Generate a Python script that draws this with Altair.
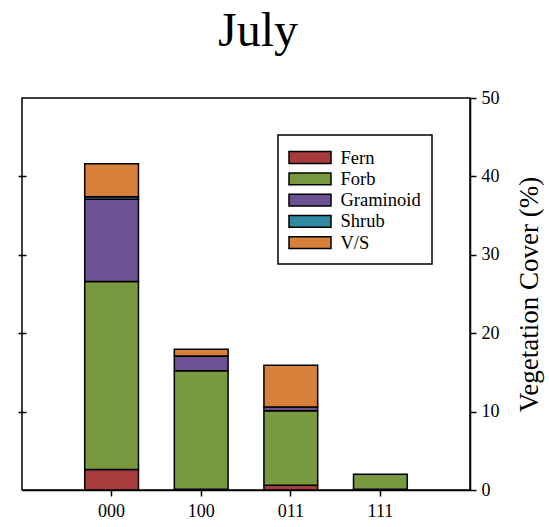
import altair as alt
import pandas as pd

# Vegetation cover (%) by treatment and growth form, July survey
treatments = ["000", "100", "011", "111"]
growth_forms = ["Fern", "Forb", "Graminoid", "Shrub", "V/S"]
fern = [2.6, 0.1, 0.6, 0.1]
forb = [24.0, 15.1, 9.5, 1.9]
graminoid = [10.5, 1.9, 0.5, 0.0]
shrub = [0.3, 0.0, 0.0, 0.0]
vs = [4.2, 0.85, 5.3, 0.0]
colors = ["#A63D3C", "#77993F", "#6A5293", "#3088A3", "#D6803A"]
y_ticks = [0, 10, 20, 30, 40, 50]

series = dict(zip(growth_forms, [fern, forb, graminoid, shrub, vs]))
rows = []
for form, vals in series.items():
    for t, v in zip(treatments, vals):
        rows.append({"treatment": t, "form": form, "cover": v})
df = pd.DataFrame(rows)

FONT = "Liberation Serif"
y_scale = alt.Scale(domain=[0, 50], nice=False, zero=True)

bars = (
    alt.Chart(df)
    .transform_filter("datum.cover > 0")
    .mark_bar(stroke="black", strokeWidth=1.5, opacity=1)
    .encode(
        x=alt.X(
            "treatment:N",
            sort=treatments,
            scale=alt.Scale(paddingInner=0.4, paddingOuter=0.7),
            axis=alt.Axis(
                title=None, labelAngle=0, labelFont=FONT, labelFontSize=18,
                labelColor="black", tickColor="black", tickWidth=1.5,
                tickSize=6, labelPadding=6, domainColor="black",
                domainWidth=1.5,
            ),
        ),
        y=alt.Y(
            "cover:Q",
            stack="zero",
            scale=y_scale,
            axis=alt.Axis(
                orient="right", values=y_ticks, title="Vegetation Cover (%)",
                titleFont=FONT, titleFontSize=27, titleFontWeight="normal",
                titleColor="black", titlePadding=44, titleAngle=270,
                labelFont=FONT, labelFontSize=18, labelColor="black",
                labelPadding=5, tickColor="black", tickWidth=1.5, tickSize=6,
                domainColor="black", domainWidth=1.5, grid=False,
            ),
        ),
        color=alt.Color(
            "form:N",
            sort=growth_forms,
            scale=alt.Scale(domain=growth_forms, range=colors),
            legend=alt.Legend(
                title=None, orient="none", legendX=256, legendY=37,
                symbolType="M-2,-0.56H2V0.56H-2Z", symbolSize=441,
                symbolOffset=9.5,
                symbolStrokeColor="black", symbolStrokeWidth=1.5,
                symbolOpacity=1, labelFont=FONT, labelFontSize=18.5,
                labelColor="black", labelOffset=19, rowPadding=0.3,
                padding=11, strokeColor="black", fillColor="white",
            ),
        ),
        order=alt.Order("form:N", sort="ascending"),
    )
)

# inner/outer ticks on the left edge, no labels
left_ticks = (
    alt.Chart(df)
    .mark_rule(opacity=0)
    .encode(
        y=alt.Y(
            "cover:Q",
            scale=y_scale,
            axis=alt.Axis(
                orient="left", values=[10, 20, 30, 40], labels=False,
                title=None, domain=False, tickColor="black", tickWidth=1.5,
                tickSize=8, offset=-4, grid=False,
            ),
        )
    )
)

chart = (
    alt.layer(bars, left_ticks)
    .resolve_axis(y="independent")
    .properties(
        width=448,
        height=392,
        title=alt.TitleParams(
            "July", font=FONT, fontSize=48, fontWeight="normal",
            color="black", anchor="middle", frame="group", dx=12, offset=33,
        ),
        autosize=alt.AutoSizeParams(type="none"),
        padding={"left": 22, "top": 98, "right": 79, "bottom": 37},
        background="white",
    )
    .configure_view(stroke="black", strokeWidth=1.5)
    .configure_legend(strokeWidth=1.5)
)

chart.save("out.html", embed_options={"renderer": "svg", "actions": False})
